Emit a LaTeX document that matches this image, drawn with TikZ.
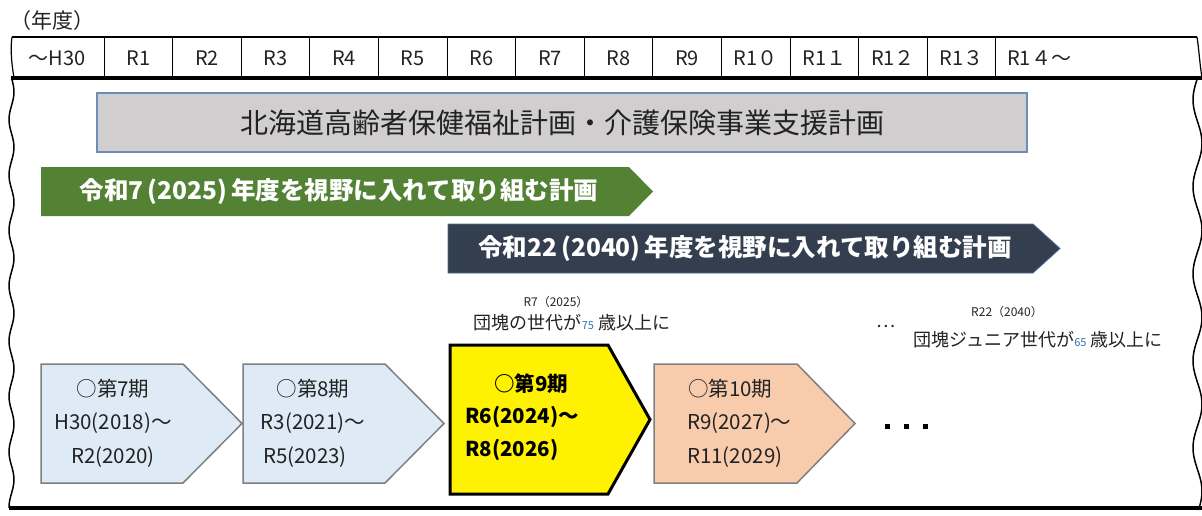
\documentclass[tikz,border=0pt]{standalone}
\usepackage{fontspec}
\setmainfont{Noto Sans CJK JP}
\usetikzlibrary{calc}
\definecolor{grayfill}{HTML}{D0CECE}
\definecolor{grayedge}{HTML}{6D8DB9}
\definecolor{greenfill}{HTML}{548235}
\definecolor{navyfill}{HTML}{333F4F}
\definecolor{navyedge}{HTML}{4A6A9A}
\definecolor{bluefill}{HTML}{DEEBF7}
\definecolor{peachfill}{HTML}{F8CBAD}
\definecolor{boxedge}{HTML}{7F7F7F}
\definecolor{numblue}{HTML}{2E75B6}
\definecolor{txt}{HTML}{222222}
\newcommand{\setfs}[1]{\fontsize{#1}{#1}\selectfont}
\begin{document}
\begin{tikzpicture}[x=1pt,y=-1pt,
  hdr/.style={font=\setfs{20}, inner sep=0pt, text=txt},
  boxst/.style={draw=boxedge, line width=1.5},
  bt/.style={font=\setfs{20.5}, inner sep=0pt, text=txt},
  btb/.style={font=\setfs{20.5}\bfseries, inner sep=0pt, text=black},
  bart/.style={font=\setfs{24.5}\bfseries, inner sep=0pt, text=white},
  note/.style={font=\setfs{18}, inner sep=0pt, text=txt},
  small/.style={font=\setfs{12}, inner sep=0pt, text=txt},
  dotst/.style={fill=black, minimum size=5, inner sep=0pt},
  wave/.style={line width=1.5, black}]
\useasboundingbox (0,0) rectangle (1202,516);

% header row
\node[hdr, anchor=west, font=\setfs{21}] (nendo) at (10,21) {（年度）};
\draw[line width=1.2] (12,37) -- (1197,37);
\draw[line width=1.2] (12,37) .. controls (10,50) and (12,66) .. (14,78);
\draw[line width=1.2] (1197,37) .. controls (1199,50) and (1200,66) .. (1202,78);
\foreach \i in {0,...,13} \draw[line width=0.9] ({104+68.6*\i},37) -- ({104+68.6*\i},78);
\draw[line width=3.5] (11,78) -- (1202,78);
\node[hdr] (h0) at (57,58) {～H30};
\foreach \k/\t in {1/R1,2/R2,3/R3,4/R4,5/R5,6/R6,7/R7,8/R8,9/R9,10/R1０,11/R1１,12/R1２,13/R1３}
  \node[hdr] (h\k) at ({104+68.6*(\k-1)+34.3},58) {\t};
\node[hdr, anchor=west] (h14) at (1007,58) {R1４～};

% wavy side borders and bottom line
\draw[wave] plot[smooth, domain=78:508, samples=110] ({11.5+2.5*sin((\x-78)*6.5)}, \x);
\draw[wave] plot[smooth, domain=78:508, samples=140] ({1197.5-4.5*sin((\x-78)*4.138)}, \x);
\draw[line width=3.5] (9,508) -- (1202,508);

% plan box
\node[draw=grayedge, fill=grayfill, line width=1.3, minimum width=930, minimum height=59,
      inner sep=0pt, font=\setfs{28}, text=txt] (plan) at (562,122.5)
      {北海道高齢者保健福祉計画・介護保険事業支援計画};

% green and navy arrows
\fill[greenfill] (41,167) -- (629,167) -- (653,191.5) -- (629,216) -- (41,216) -- cycle;
\node[bart] (g2025) at (339,191.5) {令和7\,(2025)\,年度を視野に入れて取り組む計画};
\filldraw[fill=navyfill, draw=navyedge, line width=0.8] (448,224) -- (1033,224) -- (1060,248.5) -- (1033,273) -- (448,273) -- cycle;
\node[bart] (n2040) at (745,248.5) {令和22\,(2040)\,年度を視野に入れて取り組む計画};

% period boxes
\filldraw[boxst, fill=bluefill] (41,364) -- (183,364) -- (242,423.5) -- (183,483) -- (41,483) -- cycle;
\filldraw[boxst, fill=bluefill] (243,364) -- (385,364) -- (444,423.5) -- (385,483) -- (243,483) -- cycle;
\filldraw[fill=yellow, draw=black, line width=3] (450,345) -- (608,345) -- (650,419.5) -- (608,494) -- (450,494) -- cycle;
\filldraw[boxst, fill=peachfill] (654,364) -- (797,364) -- (855,423.5) -- (797,483) -- (654,483) -- cycle;

\node[bt] (b1a) at (113,389) {○第7期};
\node[bt] (b1b) at (113,423) {H30(2018)～};
\node[bt] (b1c) at (113,457) {R2(2020)};
\node[bt] (b2a) at (313,389) {○第8期};
\node[bt] (b2b) at (313,423) {R3(2021)～};
\node[bt] (b2c) at (305,457) {R5(2023)};
\node[btb] (b3a) at (531,384) {○第9期};
\node[btb, anchor=west] (b3b) at (465,417) {R6(2024)～};
\node[btb, anchor=west] (b3c) at (465,450) {R8(2026)};
\node[bt, anchor=west] (b4a) at (688,389) {○第10期};
\node[bt, anchor=west] (b4b) at (687,423) {R9(2027)～};
\node[bt, anchor=west] (b4c) at (687,457) {R11(2029)};

\node[dotst] (dot1) at (887,426) {};
\node[dotst] (dot2) at (906,426) {};
\node[dotst] (dot3) at (925,426) {};

% annotations
\node[small] (r7) at (556,302) {R7（2025）};
\node[note] (dankai) at (572,323) {団塊の世代が{\color{numblue}\setfs{11}75} 歳以上に};
\node[note] (ell) at (886,326) {…};
\node[small] (r22) at (1007,312) {R22（2040）};
\node[note] (junior) at (1038,340) {団塊ジュニア世代が{\color{numblue}\setfs{11}65} 歳以上に};
\end{tikzpicture}
\end{document}
